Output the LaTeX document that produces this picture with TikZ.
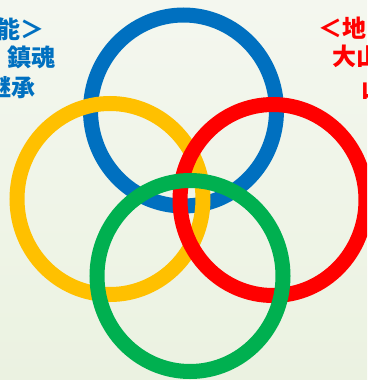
\documentclass[tikz,border=0pt]{standalone}
\usepackage{fontspec}
\newfontfamily\cjk{Noto Sans CJK JP}
\usetikzlibrary{shapes.geometric}
\definecolor{ringblue}{RGB}{0,112,192}
\definecolor{ringyellow}{RGB}{255,192,0}
\definecolor{ringred}{RGB}{255,0,0}
\definecolor{ringgreen}{RGB}{0,176,80}
\definecolor{bgtop}{RGB}{244,247,239}
\definecolor{bgbot}{RGB}{235,242,225}
\tikzset{
  ring/.style={draw=#1, ellipse, line width=15pt, minimum width=186pt, minimum height=191pt, inner sep=0pt},
  lbl/.style={text=#1, font=\cjk\bfseries\fontsize{24}{24}\selectfont, inner sep=0pt, anchor=west}
}
\begin{document}
\begin{tikzpicture}[x=1pt,y=-1pt]
\useasboundingbox (0,0) rectangle (367,380);
\shade[top color=bgtop, bottom color=bgbot] (0,0) rectangle (367,380);
\begin{scope}
\clip (0,0) rectangle (367,380);
% left labels
\node[lbl=ringblue] (l1) at (-4,29) {能＞};
\node[lbl=ringblue] (l2) at (7,57) {鎮魂};
\node[lbl=ringblue] (l3) at (-13,87) {継承};
% right labels
\node[lbl=ringred] (r1) at (318,28) {＜地};
\node[lbl=ringred] (r2) at (332,56) {大山};
\node[lbl=ringred] (r3) at (361,89) {山};
% rings
\node[ring=ringblue] (blue) at (183.5,110.5) {};
\node[ring=ringyellow] (yellow) at (110,199) {};
\node[ring=ringred] (red) at (273,200) {};
\node[ring=ringgreen] (green) at (190,276) {};
\end{scope}
\end{tikzpicture}
\end{document}
